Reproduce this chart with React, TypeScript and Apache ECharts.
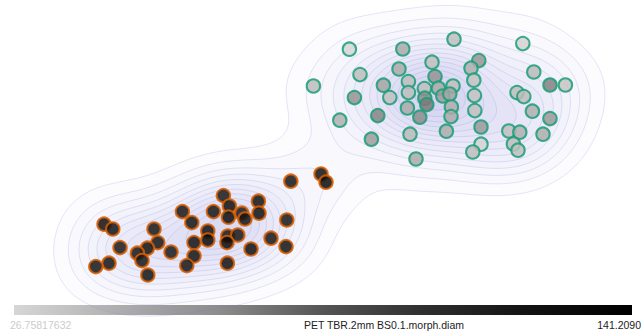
import { useEffect, useRef } from "react";
import * as echarts from "echarts";

// Colour scale of the marker fill (PET TBR value)
const VALUE_MIN = 26.75817632;
const VALUE_MAX = 141.209;
const VALUE_TITLE = "PET TBR.2mm BS0.1.morph.diam";
const MIN_LABEL = "26.75817632";
const MAX_LABEL = "141.2090";
const GREYS = ["#d6d6d6", "#b0b0b0", "#8c8c8c", "#555555", "#2e2e2e", "#121212", "#000000"];

// Embedding coordinates [dim1, dim2, value]
const clusterGreen: [number, number, number][] = [
  [16.82, 12.44, 26.9], [19.49, 12.45, 48.9], [22.05, 12.94, 38.0], [25.49, 12.72, 27.7],
  [17.35, 11.17, 38.7], [19.3, 11.45, 47.8], [20.95, 11.79, 37.2], [23.29, 11.87, 58.6],
  [22.9, 11.49, 45.7], [15.02, 10.6, 39.5], [18.52, 10.64, 51.0], [19.77, 10.82, 39.5],
  [21.1, 11.07, 60.7], [23.04, 10.89, 36.5], [26.04, 11.3, 40.5], [26.85, 10.65, 68.5],
  [27.62, 10.65, 35.0], [17.07, 10.02, 60.7], [18.84, 10.02, 37.2], [19.77, 10.27, 38.7],
  [20.57, 10.47, 38.0], [21.27, 10.49, 48.9], [22.0, 10.6, 38.0], [21.49, 10.1, 56.4],
  [21.84, 10.2, 52.2], [20.59, 9.99, 64.5], [20.69, 9.67, 71.1], [23.07, 10.12, 36.5],
  [25.2, 10.27, 38.7], [25.54, 10.07, 39.5], [19.72, 9.5, 48.9], [21.92, 9.55, 46.7],
  [18.24, 9.12, 67.3], [20.34, 9.04, 64.5], [21.9, 9.07, 47.8], [23.09, 9.37, 37.2],
  [25.97, 9.34, 45.7], [16.34, 8.89, 45.7], [26.85, 8.97, 57.5], [19.85, 8.19, 40.5],
  [21.67, 8.34, 46.7], [23.4, 8.55, 57.5], [24.79, 8.35, 38.0], [25.34, 8.29, 45.7],
  [26.5, 8.19, 46.7], [17.92, 7.94, 56.4], [23.4, 7.69, 28.4], [22.99, 7.3, 38.7],
  [25.02, 7.7, 39.5], [25.25, 7.39, 38.0], [20.15, 6.95, 48.9],
];

const clusterOrange: [number, number, number][] = [
  [13.89, 5.84, 119.5], [15.4, 6.2, 122.2], [15.65, 5.79, 128.5], [10.52, 5.12, 116.9],
  [12.27, 4.84, 120.9], [10.82, 4.6, 124.3], [8.47, 4.32, 118.2], [10.02, 4.32, 119.5],
  [11.44, 4.24, 115.7], [12.3, 4.24, 122.2], [10.77, 4.04, 126.3], [11.6, 3.95, 119.5],
  [8.94, 3.77, 120.9], [13.69, 3.9, 116.9], [4.55, 3.69, 124.3], [4.99, 3.45, 120.9],
  [7.05, 3.45, 118.2], [9.74, 3.35, 122.2], [9.74, 2.9, 130.5], [10.74, 3.1, 119.5],
  [11.24, 3.15, 116.9], [10.7, 2.77, 128.5], [12.9, 2.99, 118.2], [9.05, 2.77, 120.9],
  [7.24, 2.77, 119.5], [5.35, 2.52, 116.9], [13.65, 2.57, 120.9], [6.72, 2.49, 122.2],
  [6.22, 2.24, 119.5], [7.9, 2.3, 115.7], [11.9, 2.45, 124.3], [9.05, 2.1, 120.9],
  [6.45, 1.87, 118.2], [4.8, 1.74, 120.9], [8.69, 1.62, 119.5], [10.72, 1.74, 122.2],
  [4.14, 1.57, 119.5], [6.74, 1.15, 120.9],
];

const X_RANGE: [number, number] = [0, 31];
const Y_RANGE: [number, number] = [0, 14.5];

// Gaussian kernel density of all points, traced into closed iso-lines
function densityContours(pts: [number, number, number][], hx: number, hy: number, nLevels: number) {
  const x0 = X_RANGE[0] - 3, x1 = X_RANGE[1] + 3;
  const y0 = Y_RANGE[0] - 3, y1 = Y_RANGE[1] + 3;
  const nx = 200, ny = 110;
  const dx = (x1 - x0) / nx, dy = (y1 - y0) / ny;
  const g: number[][] = [];
  let maxV = 0;
  for (let j = 0; j <= ny; j++) {
    const row: number[] = [];
    const y = y0 + j * dy;
    for (let i = 0; i <= nx; i++) {
      const x = x0 + i * dx;
      let v = 0;
      if (i > 0 && j > 0 && i < nx && j < ny) {
        for (const p of pts) {
          const u = (x - p[0]) / hx, w = (y - p[1]) / hy;
          v += Math.exp(-0.5 * (u * u + w * w));
        }
      }
      if (v > maxV) maxV = v;
      row.push(v);
    }
    g.push(row);
  }
  const result: { level: number; rings: [number, number][][] }[] = [];
  for (let k = 1; k <= nLevels; k++) {
    const L = (maxV * k) / (nLevels + 1);
    const adj = new Map<string, string[]>();
    const pos = new Map<string, [number, number]>();
    const edgePoint = (key: string, xa: number, ya: number, va: number, xb: number, yb: number, vb: number) => {
      if (!pos.has(key)) {
        const t = (L - va) / (vb - va);
        pos.set(key, [xa + (xb - xa) * t, ya + (yb - ya) * t]);
      }
      return key;
    };
    const link = (a: string, b: string) => {
      if (!adj.has(a)) adj.set(a, []);
      if (!adj.has(b)) adj.set(b, []);
      adj.get(a)!.push(b);
      adj.get(b)!.push(a);
    };
    for (let j = 0; j < ny; j++) {
      for (let i = 0; i < nx; i++) {
        const va = g[j][i], vb = g[j][i + 1], vc = g[j + 1][i + 1], vd = g[j + 1][i];
        const ia = va >= L, ib = vb >= L, ic = vc >= L, id = vd >= L;
        const xa = x0 + i * dx, xb = xa + dx, ya = y0 + j * dy, yd = ya + dy;
        const e: (string | null)[] = [
          ia !== ib ? edgePoint(`h${i},${j}`, xa, ya, va, xb, ya, vb) : null,
          ib !== ic ? edgePoint(`v${i + 1},${j}`, xb, ya, vb, xb, yd, vc) : null,
          id !== ic ? edgePoint(`h${i},${j + 1}`, xa, yd, vd, xb, yd, vc) : null,
          ia !== id ? edgePoint(`v${i},${j}`, xa, ya, va, xa, yd, vd) : null,
        ];
        const crossed = e.filter((s) => s !== null) as string[];
        if (crossed.length === 2) {
          link(crossed[0], crossed[1]);
        } else if (crossed.length === 4) {
          const centre = (va + vb + vc + vd) / 4 >= L;
          // separate the corners that are on the opposite side of the centre
          if (ia === centre) {
            link(e[0]!, e[1]!);
            link(e[2]!, e[3]!);
          } else {
            link(e[0]!, e[3]!);
            link(e[1]!, e[2]!);
          }
        }
      }
    }
    const visited = new Set<string>();
    const rings: [number, number][][] = [];
    for (const start of adj.keys()) {
      if (visited.has(start)) continue;
      const ring: [number, number][] = [];
      let prev: string | null = null;
      let cur = start;
      while (true) {
        visited.add(cur);
        ring.push(pos.get(cur)!);
        const nb = adj.get(cur)!;
        const next = nb[0] !== prev ? nb[0] : nb[1];
        if (next === undefined || visited.has(next)) break;
        prev = cur;
        cur = next;
      }
      if (ring.length > 2) rings.push(ring);
    }
    result.push({ level: L, rings });
  }
  return result;
}

const contours = densityContours([...clusterGreen, ...clusterOrange], 1.6, 1.42, 14);

export default function App() {
  const ref = useRef<HTMLDivElement>(null);

  useEffect(() => {
    if (!ref.current) return;
    const chart = echarts.init(ref.current, null, { renderer: "svg" });
    const font = "'Liberation Sans', Arial, Helvetica, sans-serif";

    chart.setOption({
      animation: false,
      backgroundColor: "#ffffff",
      grid: { left: 13, right: 10, top: 8, bottom: 35 },
      xAxis: { type: "value", min: X_RANGE[0], max: X_RANGE[1], show: false },
      yAxis: { type: "value", min: Y_RANGE[0], max: Y_RANGE[1], show: false },
      visualMap: {
        type: "continuous",
        show: false,
        min: VALUE_MIN,
        max: VALUE_MAX,
        dimension: 2,
        seriesIndex: [1, 2],
        inRange: { color: GREYS },
      },
      series: [
        {
          type: "custom",
          name: "density",
          coordinateSystem: "cartesian2d",
          silent: true,
          clip: false,
          z: 1,
          data: [[X_RANGE[0], Y_RANGE[0]]],
          renderItem: (_params: any, api: any) => {
            const children: any[] = [];
            contours.forEach((c) => {
              c.rings.forEach((ring) => {
                children.push({
                  type: "polygon",
                  shape: { points: ring.map((p) => api.coord(p)) },
                  style: {
                    fill: "rgba(112,122,222,0.021)",
                    stroke: "rgba(120,128,210,0.22)",
                    lineWidth: 0.9,
                  },
                });
              });
            });
            return { type: "group", children };
          },
        },
        {
          type: "scatter",
          name: "Cluster 1",
          data: clusterGreen,
          symbolSize: 13.5,
          z: 3,
          itemStyle: { borderColor: "#1b9e77", borderWidth: 2, opacity: 0.85 },
        },
        {
          type: "scatter",
          name: "Cluster 2",
          data: clusterOrange,
          symbolSize: 13.5,
          z: 3,
          itemStyle: { borderColor: "#d95f02", borderWidth: 2, opacity: 0.85 },
        },
      ],
      graphic: [
        {
          type: "rect",
          left: 14,
          top: 305,
          shape: { width: 618, height: 10 },
          style: {
            fill: new echarts.graphic.LinearGradient(
              0, 0, 1, 0,
              GREYS.map((c, i) => ({ offset: i / (GREYS.length - 1), color: c }))
            ),
          },
        },
        {
          type: "text",
          x: 10,
          y: 325,
          style: { text: MIN_LABEL, fill: "#cccccc", font: `10.5px ${font}`, textAlign: "left", textVerticalAlign: "middle" },
        },
        {
          type: "text",
          x: 384,
          y: 325,
          style: { text: VALUE_TITLE, fill: "#222222", font: `10.5px ${font}`, textAlign: "center", textVerticalAlign: "middle" },
        },
        {
          type: "text",
          x: 641,
          y: 325,
          style: { text: MAX_LABEL, fill: "#222222", font: `10.5px ${font}`, textAlign: "right", textVerticalAlign: "middle" },
        },
      ],
    });

    return () => chart.dispose();
  }, []);

  return (
    <div
      ref={ref}
      style={{ position: "absolute", left: 0, top: 0, width: 643, height: 333 }}
    />
  );
}
